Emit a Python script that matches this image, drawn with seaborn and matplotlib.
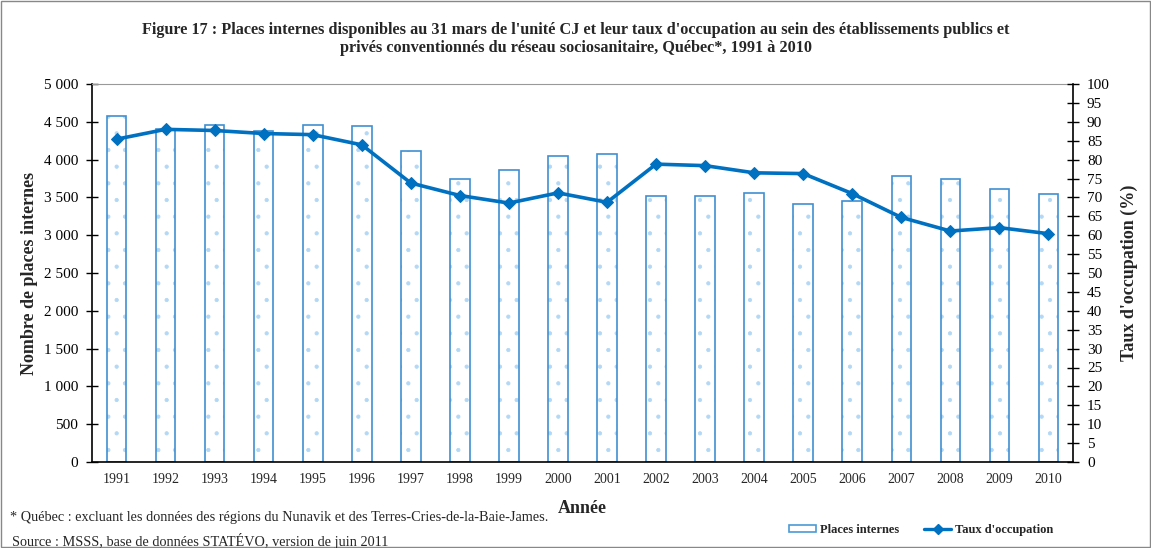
import matplotlib
matplotlib.use("Agg")
import matplotlib.pyplot as plt
import seaborn as sns
import pandas as pd
from matplotlib.ticker import FuncFormatter, MultipleLocator
from matplotlib.patches import Rectangle, Patch
from matplotlib.lines import Line2D

years = [str(y) for y in range(1991, 2011)]
places = [4580, 4410, 4455, 4380, 4455, 4440, 4115, 3740, 3860, 4050,
          4070, 3515, 3515, 3555, 3410, 3450, 3780, 3750, 3610, 3545]
taux = [85.4, 88.0, 87.7, 86.9, 86.6, 83.9, 73.8, 70.5, 68.5, 71.2,
        68.7, 78.8, 78.4, 76.5, 76.3, 71.0, 64.7, 61.1, 62.0, 60.4]

df = pd.DataFrame({"Année": years, "Places": places, "Taux": taux})

sns.set_theme(style="white")
plt.rcParams['font.family'] = ['Liberation Serif', 'DejaVu Serif']
plt.rcParams['hatch.color'] = '#b3d8f5'
plt.rcParams['hatch.linewidth'] = 0.6

fig = plt.figure(figsize=(11.51, 5.48), dpi=100)
ax = fig.add_axes([92/1151, 1-462/548, (1073-92)/1151, (462-84)/548])

bar_color = '#3f8fd2'
sns.barplot(data=df, x="Année", y="Places", ax=ax, width=0.4,
            color='white', edgecolor='#b3d8f5', linewidth=0, hatch='.',
            saturation=1)
sns.barplot(data=df, x="Année", y="Places", ax=ax, width=0.4,
            fill=False, edgecolor=bar_color, linewidth=1.2)

ax.set_ylim(0, 5000)
ax.yaxis.set_major_locator(MultipleLocator(500))
ax.yaxis.set_major_formatter(FuncFormatter(lambda v, p: f"{int(v):,}".replace(",", " ")))
ax.set_xlim(-0.5, len(years) - 0.5)
ax.tick_params(axis='y', direction='inout', length=8, width=1, labelsize=11, colors='black', pad=6)
ax.tick_params(axis='x', length=0, labelsize=10, pad=8)
ax.set_xlabel("Année", fontsize=13, fontweight='bold', labelpad=10)
ax.set_ylabel("Nombre de places internes", fontsize=13, fontweight='bold', labelpad=4)
for s in ['left', 'bottom']:
    ax.spines[s].set_color('black')
    ax.spines[s].set_linewidth(1.2)
ax.spines['top'].set_color('#999999')
ax.spines['top'].set_linewidth(0.8)
ax.spines['right'].set_visible(False)

ax2 = ax.twinx()
sns.lineplot(data=df, x="Année", y="Taux", ax=ax2, color='#0070c0', linewidth=2.6,
             marker='D', markersize=6.5, markeredgecolor='#0070c0', sort=False)
ax2.set_ylim(0, 100)
ax2.yaxis.set_major_locator(MultipleLocator(5))
ax2.tick_params(axis='y', direction='inout', length=8, width=1, labelsize=11, colors='black', pad=6)
ax2.set_ylabel("Taux d'occupation (%)", fontsize=13, fontweight='bold', labelpad=8)
for s in ['left', 'top', 'bottom']:
    ax2.spines[s].set_visible(False)
ax2.spines['right'].set_color('black')
ax2.spines['right'].set_linewidth(1.2)
ax2.set_xlabel("")

fig.text(0.5, 1-30/548, "Figure 17 : Places internes disponibles au 31 mars de l'unité CJ et leur taux d'occupation au sein des établissements publics et",
         ha='center', va='center', fontsize=11.7, fontweight='bold')
fig.text(0.5, 1-48/548, "privés conventionnés du réseau sociosanitaire, Québec*, 1991 à 2010",
         ha='center', va='center', fontsize=11.7, fontweight='bold')
fig.text(10/1151, 1-517/548, "* Québec : excluant les données des régions du Nunavik et des Terres-Cries-de-la-Baie-James.",
         ha='left', va='center', fontsize=10.3)
fig.text(12/1151, 1-541/548, "Source : MSSS, base de données STATÉVO, version de juin 2011",
         ha='left', va='center', fontsize=10.3)

handles = [Patch(facecolor='white', edgecolor='#4a9ad6', linewidth=1.2),
           Line2D([0], [0], color='#0070c0', lw=2.4, marker='D', markersize=5)]
fig.legend(handles, ["Places internes", "Taux d'occupation"], loc='center',
           bbox_to_anchor=(921/1151, 1-530/548), ncol=2, frameon=False,
           prop={'weight': 'bold', 'size': 9}, handlelength=2.2, handleheight=0.5,
           columnspacing=2.0, handletextpad=0.3)

fig.patches.append(Rectangle((0.001, 0.001), 0.998, 0.997, transform=fig.transFigure,
                             fill=False, edgecolor='#888888', linewidth=1))

fig.savefig("out.png", dpi=100)
